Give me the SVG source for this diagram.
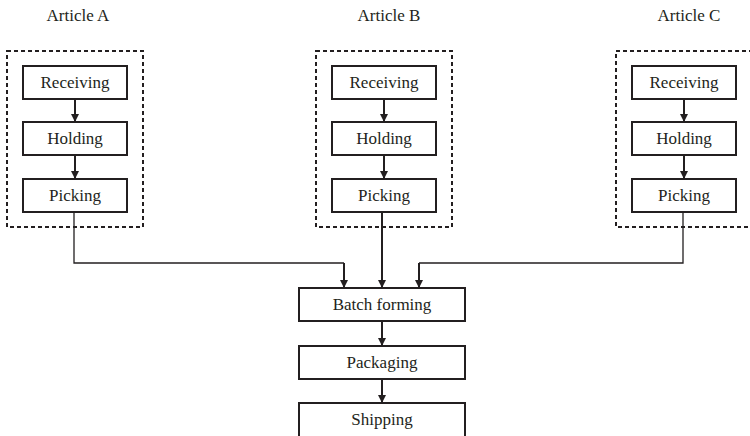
<svg xmlns="http://www.w3.org/2000/svg" width="750" height="436" viewBox="0 0 750 436">
<defs>
<marker id="ah" viewBox="0 0 8 8" refX="8" refY="4" markerWidth="8" markerHeight="8" markerUnits="userSpaceOnUse" orient="auto">
<path d="M0,0 L8,4 L0,8 Z" fill="#231f20"/>
</marker>
<style>
text{font-family:"Liberation Serif","Times New Roman",serif;font-size:17px;fill:#231f20;text-anchor:middle}
.box{fill:#fff;stroke:#231f20;stroke-width:2}
.grp{fill:none;stroke:#231f20;stroke-width:2;stroke-dasharray:4 3}
.c{fill:none;stroke:#231f20;stroke-width:2}
.t{fill:none;stroke:#231f20;stroke-width:1.3}
</style>
</defs>
<rect width="750" height="436" fill="#fff"/>
<g id="groupA">
<text x="78" y="21">Article A</text>
<rect class="grp" x="7" y="51" width="136" height="176"/>
</g>
<g id="groupB">
<text x="389" y="21">Article B</text>
<rect class="grp" x="316" y="51" width="136" height="176"/>
</g>
<g id="groupC">
<text x="689" y="21">Article C</text>
<path class="grp" d="M760,51 H616 V227 H760"/>
</g>
<g id="recvA"><rect class="box" x="23" y="66" width="104" height="33"/><text x="75" y="87.5">Receiving</text></g>
<g id="holdA"><rect class="box" x="23" y="122" width="104" height="33"/><text x="75" y="143.5">Holding</text></g>
<g id="pickA"><rect class="box" x="23" y="179" width="104" height="33"/><text x="75" y="200.5">Picking</text></g>
<g id="recvB"><rect class="box" x="332" y="66" width="104" height="33"/><text x="384" y="87.5">Receiving</text></g>
<g id="holdB"><rect class="box" x="332" y="122" width="104" height="33"/><text x="384" y="143.5">Holding</text></g>
<g id="pickB"><rect class="box" x="332" y="179" width="104" height="33"/><text x="384" y="200.5">Picking</text></g>
<g id="recvC"><rect class="box" x="632" y="66" width="104" height="33"/><text x="684" y="87.5">Receiving</text></g>
<g id="holdC"><rect class="box" x="632" y="122" width="104" height="33"/><text x="684" y="143.5">Holding</text></g>
<g id="pickC"><rect class="box" x="632" y="179" width="104" height="33"/><text x="684" y="200.5">Picking</text></g>
<g id="batch"><rect class="box" x="299" y="288" width="166" height="33"/><text x="382" y="309.5">Batch forming</text></g>
<g id="pack"><rect class="box" x="299" y="346" width="166" height="33"/><text x="382" y="367.5">Packaging</text></g>
<g id="ship"><rect class="box" x="299" y="403" width="166" height="40"/><text x="382" y="424.5">Shipping</text></g>
<g id="connectors">
<line class="c" x1="75" y1="99" x2="75" y2="122" marker-end="url(#ah)"/>
<line class="c" x1="75" y1="155" x2="75" y2="179" marker-end="url(#ah)"/>
<line class="c" x1="384" y1="99" x2="384" y2="122" marker-end="url(#ah)"/>
<line class="c" x1="384" y1="155" x2="384" y2="179" marker-end="url(#ah)"/>
<line class="c" x1="684" y1="99" x2="684" y2="122" marker-end="url(#ah)"/>
<line class="c" x1="684" y1="155" x2="684" y2="179" marker-end="url(#ah)"/>
<path class="t" d="M74,212 V263 H344"/>
<path class="c" d="M344,263 V288" marker-end="url(#ah)"/>
<path class="c" d="M382,212 V288" marker-end="url(#ah)"/>
<path class="t" d="M683,212 V263 H419"/>
<path class="c" d="M419,263 V288" marker-end="url(#ah)"/>
<line class="c" x1="382" y1="321" x2="382" y2="346" marker-end="url(#ah)"/>
<line class="c" x1="382" y1="379" x2="382" y2="403" marker-end="url(#ah)"/>
</g>
</svg>
